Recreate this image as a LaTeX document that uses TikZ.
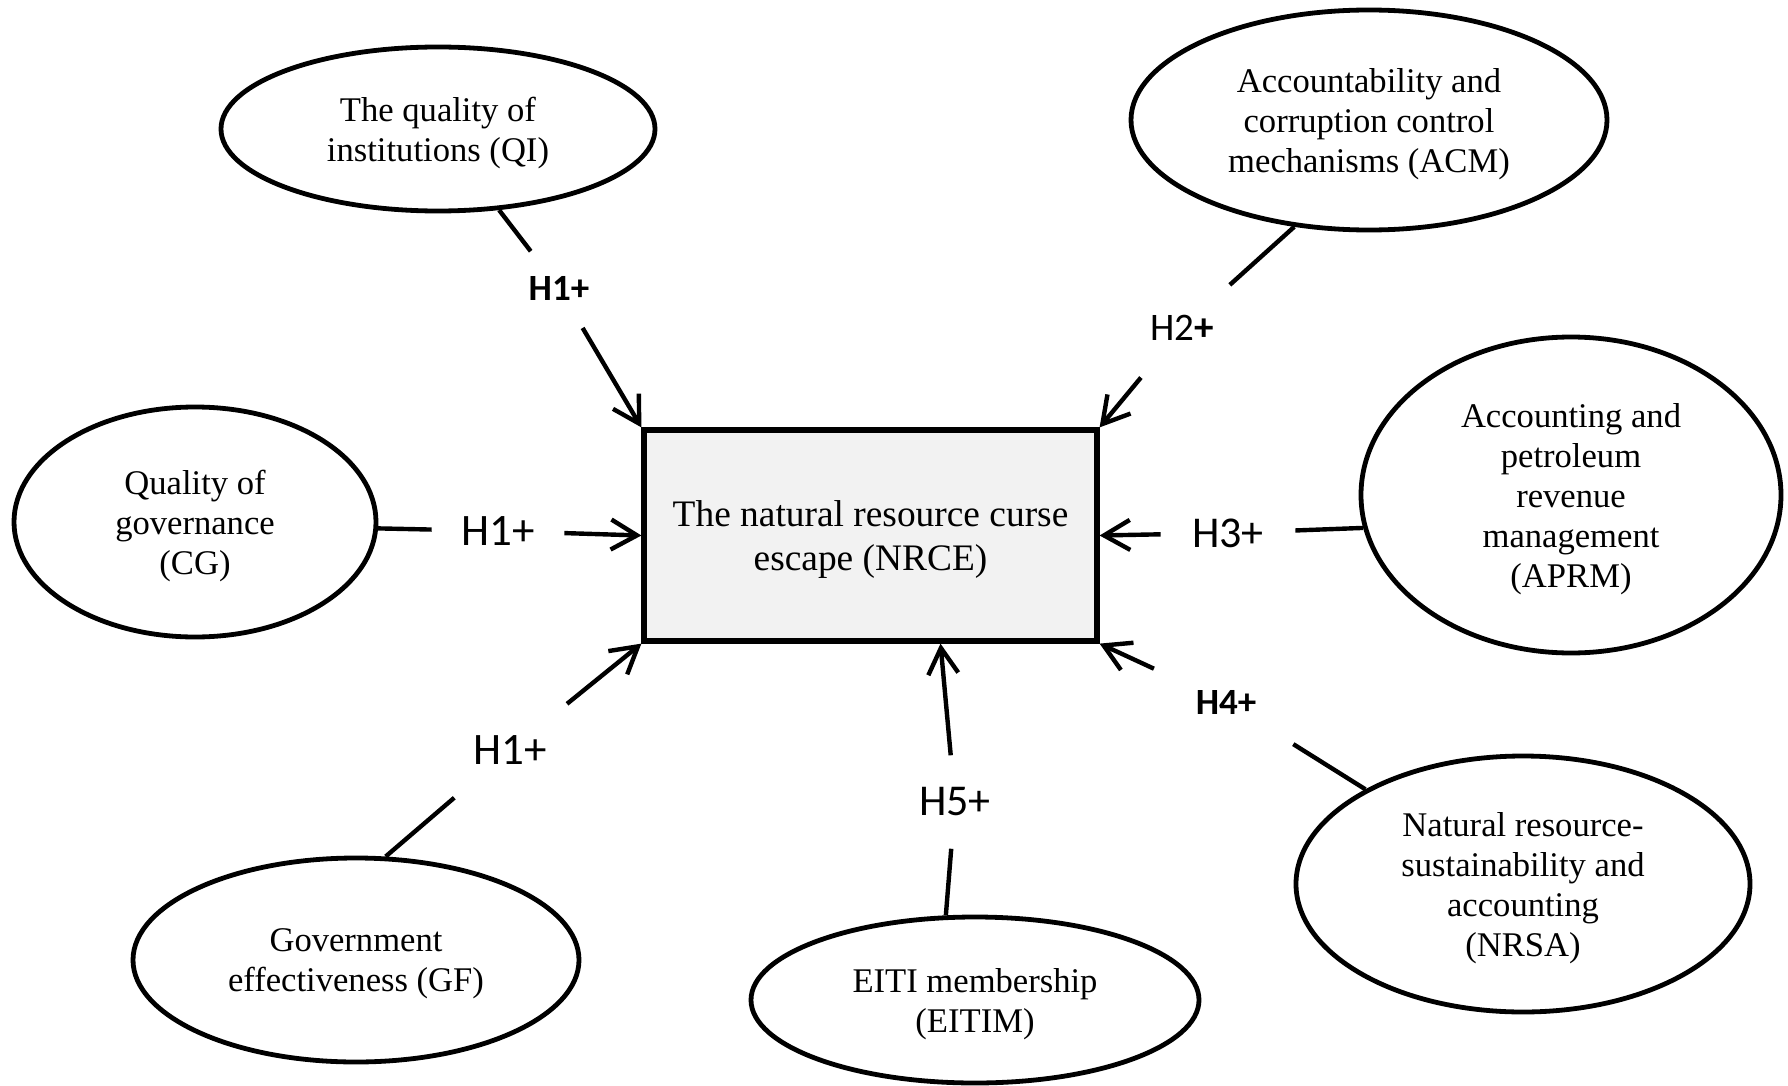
\documentclass[tikz,border=0pt]{standalone}
\usepackage{fontspec}
\setmainfont{Liberation Serif}
\newfontfamily\calibri{Carlito}
\usetikzlibrary{shapes.geometric,arrows.meta}
\definecolor{boxgray}{HTML}{F2F2F2}

\begin{document}
\begin{tikzpicture}[
        x=0.5pt, y=-0.5pt,
        var_ellipse/.style={ellipse,draw,line width=2.4pt,inner sep=0pt,text depth=0pt,align=center,font=\fontsize{17.3}{20}\selectfont},
        main_box/.style={rectangle,draw,fill=boxgray,line width=2.6pt,inner sep=0pt,text depth=0pt,align=center,font=\fontsize{18.7}{22}\selectfont},
        hyp_label/.style={circle,inner sep=0pt,font=\calibri\fontsize{22.5}{24}\selectfont},
        hyp_bold/.style={hyp_label,font=\calibri\bfseries\fontsize{18.5}{20}\selectfont},
        link/.style={line width=2.2pt},
        arrow_link/.style={link,-{Straight Barb[length=13pt,width=15pt]}}
    ]

    \useasboundingbox (0,0) rectangle (1788,1086);

    % Dependent variable
    \node[main_box,minimum width=226.5pt,minimum height=105.5pt] (nrce) at (870.5,535.5)
        {The natural resource curse\\escape (NRCE)};

    % Explanatory variables
    \node[var_ellipse,minimum width=217pt,minimum height=82pt] (qi) at (438,129)
        {The quality of\\institutions (QI)};
    \node[var_ellipse,minimum width=238pt,minimum height=110pt] (acm) at (1369,120)
        {Accountability and\\corruption control\\mechanisms (ACM)};
    \node[var_ellipse,minimum width=181pt,minimum height=115pt] (cg) at (195,522)
        {Quality of\\governance\\(CG)};
    \node[var_ellipse,minimum width=210pt,minimum height=158pt] (aprm) at (1571,495)
        {Accounting and\\petroleum\\revenue\\management\\(APRM)};
    \node[var_ellipse,minimum width=223pt,minimum height=102pt] (gf) at (356,960)
        {Government\\effectiveness (GF)};
    \node[var_ellipse,minimum width=224pt,minimum height=83pt] (eitim) at (975,1000)
        {EITI membership\\(EITIM)};
    \node[var_ellipse,minimum width=227pt,minimum height=128pt] (nrsa) at (1523,884)
        {Natural resource-\\sustainability and\\accounting\\(NRSA)};

    % Hypotheses
    \node[hyp_bold,minimum size=46pt] (hqi) at (559,288) {H1+};
    \node[hyp_label,minimum size=66pt] (hcg) at (498,531) {H1+};
    \node[hyp_label,minimum size=73pt] (hgf) at (510,750) {H1+};
    \node[hyp_label,minimum size=64pt,font=\calibri\fontsize{19.5}{22}\selectfont] (hacm) at (1182,328) {H2\textbf{+}};
    \node[hyp_label,font=\calibri\fontsize{22}{24}\selectfont,minimum size=67pt] (haprm) at (1228,533) {H3+};
    \node[hyp_bold,minimum size=79pt] (hnrsa) at (1226,702) {H4+};
    \node[hyp_label,font=\calibri\fontsize{22}{24}\selectfont,minimum size=46.5pt] (heitim) at (955,802) {H5+};

    % Paths
    \draw[link] (qi.-53) -- (hqi);
    \draw[arrow_link] (hqi) -- (nrce.north west);
    \draw[link] (cg.-2) -- (hcg);
    \draw[arrow_link] (hcg) -- (nrce.west);
    \draw[link] (gf.74) -- (hgf);
    \draw[arrow_link] (hgf) -- (nrce.south west);
    \draw[link] (acm.235) -- (hacm);
    \draw[arrow_link] (hacm) -- (nrce.north east);
    \draw[link] (aprm.189) -- (haprm);
    \draw[arrow_link] (haprm) -- (nrce.east);
    \draw[link] (nrsa.149.5) -- (hnrsa);
    \draw[arrow_link] (hnrsa) -- (nrce.south east);
    \draw[link] (eitim.109) -- (heitim);
    \draw[arrow_link] (heitim) -- ([xshift=35pt]nrce.south);

\end{tikzpicture}
\end{document}
